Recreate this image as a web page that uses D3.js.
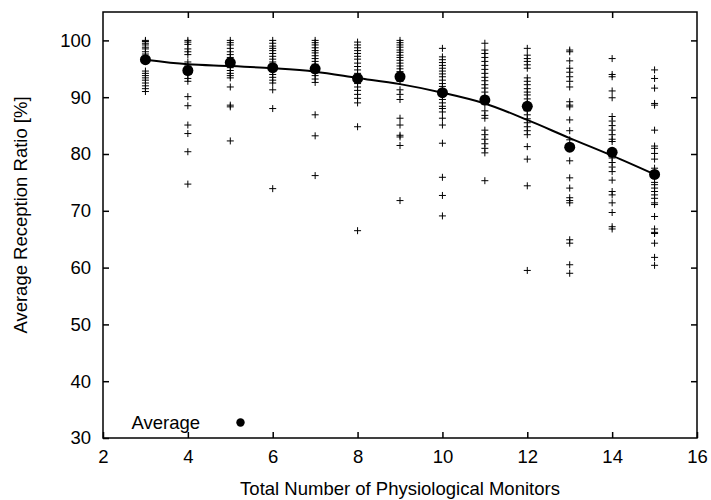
<!DOCTYPE html>
<html>
<head>
<meta charset="utf-8">
<script src="https://cdn.jsdelivr.net/npm/d3@7"></script>
<style>
  body { margin: 0; background: #fff; }
  svg text { font-family: "Liberation Sans", Arial, sans-serif; fill: #000; }
</style>
</head>
<body>
<svg id="canvas"></svg>
<script>
// monitor counts on the x axis
let monitors = [3, 4, 5, 6, 7, 8, 9, 10, 11, 12, 13, 14, 15]

// individual runs, one list per monitor count
let runs3 = [100, 99.8, 99.5, 99.2, 98.8, 98.5, 98.0, 97.6, 94.6, 94.2, 93.8, 93.4, 93.0, 92.5, 92.0, 91.5, 91.0]
let runs4 = [100, 99.7, 99.3, 98.5, 98.0, 97.5, 96.2, 95.5, 95.0, 94.5, 94.0, 93.3, 92.8, 90.1, 88.5, 85.1, 83.6, 80.4, 74.7]
let runs5 = [100, 99.6, 99.2, 98.6, 98.0, 97.5, 97.0, 96.6, 95.2, 94.7, 94.2, 93.8, 93.4, 91.8, 88.6, 88.3, 82.3]
let runs6 = [100, 99.5, 99.0, 98.6, 98.2, 97.7, 97.2, 96.7, 96.2, 95.0, 94.5, 94.0, 93.5, 93.0, 92.5, 91.3, 88.0, 73.9]
let runs7 = [100, 99.6, 99.2, 98.7, 98.2, 97.8, 97.3, 96.8, 96.3, 95.8, 95.3, 94.8, 94.3, 93.8, 93.2, 92.6, 86.9, 83.2, 76.2]
let runs8 = [99.7, 99.2, 98.7, 98.2, 97.7, 97.2, 96.7, 96.0, 95.4, 94.8, 94.2, 93.6, 93.0, 92.4, 91.8, 91.2, 90.5, 89.8, 89.0, 84.8, 66.5]
let runs9 = [100, 99.6, 99.2, 98.8, 98.3, 97.9, 97.4, 97.0, 96.5, 96.0, 95.5, 95.0, 94.5, 94.0, 93.4, 92.8, 91.3, 90.5, 89.6, 86.3, 85.1, 83.3, 83.0, 81.5, 71.8]
let runs10 = [98.6, 97.1, 96.6, 96.1, 95.6, 95.1, 94.6, 94.1, 93.6, 93.0, 92.4, 91.9, 91.3, 90.7, 90.2, 89.6, 89.0, 88.4, 88.0, 87.4, 86.3, 85.1, 81.9, 75.9, 72.7, 69.1]
let runs11 = [99.5, 98.3, 97.7, 97.0, 96.3, 95.6, 94.9, 94.2, 93.5, 92.9, 92.2, 91.6, 90.9, 90.2, 89.5, 88.8, 87.6, 86.8, 86.3, 84.2, 83.4, 82.6, 81.8, 81.0, 80.2, 75.3]
let runs12 = [98.6, 97.4, 96.8, 96.3, 95.7, 95.1, 93.4, 92.8, 92.2, 91.5, 90.9, 90.4, 89.7, 89.0, 88.3, 87.6, 86.9, 86.2, 85.5, 84.8, 84.1, 83.4, 81.3, 79.1, 74.4, 59.5]
let runs13 = [98.3, 98.0, 96.4, 95.1, 94.4, 93.6, 92.8, 91.8, 89.2, 88.6, 88.3, 86.0, 84.1, 82.5, 78.8, 75.8, 74.0, 72.3, 71.8, 71.4, 64.9, 64.3, 60.5, 59.0]
let runs14 = [96.8, 94.0, 93.6, 91.1, 89.9, 86.6, 85.8, 85.0, 84.2, 83.4, 82.6, 82.2, 80.4, 79.8, 79.3, 78.5, 77.7, 76.9, 75.4, 73.4, 72.8, 71.4, 69.7, 67.2, 66.8]
let runs15 = [94.8, 93.3, 91.6, 88.9, 88.6, 84.2, 81.4, 81.0, 80.1, 79.1, 77.5, 75.0, 74.6, 74.0, 73.4, 72.8, 72.2, 71.4, 71.1, 69.0, 66.8, 66.2, 66.0, 64.3, 61.8, 60.4]
let allRuns = [runs3, runs4, runs5, runs6, runs7, runs8, runs9, runs10, runs11, runs12, runs13, runs14, runs15]

// averages (dots) and fitted trend (line)
let averages = [96.6, 94.7, 96.1, 95.2, 95.0, 93.3, 93.6, 90.8, 89.5, 88.4, 81.2, 80.3, 76.4]
let trend = [96.6, 95.8, 95.5, 95.1, 94.5, 93.4, 92.3, 90.8, 88.9, 86.0, 82.8, 79.7, 76.4]

let xTicks = [2, 4, 6, 8, 10, 12, 14, 16]
let yTicks = [30, 40, 50, 60, 70, 80, 90, 100]

let width = 711
let height = 500
let margin = {left: 103, right: 14, top: 12, bottom: 62}
let fontSize = '18.5px'

let canvas = d3.select('#canvas')
canvas.attr('width', width)
      .attr('height', height)

let xScale = d3.scaleLinear()
               .domain([2, 16])
               .range([margin.left, width - margin.right])

let yScale = d3.scaleLinear()
               .domain([30, 105])
               .range([height - margin.bottom, margin.top])

let x0 = xScale.range()[0], x1 = xScale.range()[1]
let y0 = yScale.range()[0], y1 = yScale.range()[1]

/*axes with mirrored ticks*/
let axisStyle = (g) => {
  g.select('.domain').remove()
  g.selectAll('.tick line').attr('stroke', '#000').attr('stroke-width', 1.5)
  g.selectAll('.tick text').style('font-size', fontSize)
}

canvas.append('g')
      .attr('transform', 'translate(0,' + y0 + ')')
      .call(d3.axisBottom(xScale).tickValues(xTicks).tickSize(-6).tickPadding(12))
      .call(axisStyle)

canvas.append('g')
      .attr('transform', 'translate(0,' + y1 + ')')
      .call(d3.axisTop(xScale).tickValues(xTicks.slice(1, -1)).tickSize(-6).tickFormat(''))
      .call(axisStyle)

canvas.append('g')
      .attr('transform', 'translate(' + x0 + ',0)')
      .call(d3.axisLeft(yScale).tickValues(yTicks).tickSize(-6).tickPadding(12))
      .call(axisStyle)

canvas.append('g')
      .attr('transform', 'translate(' + x1 + ',0)')
      .call(d3.axisRight(yScale).tickValues(yTicks.slice(1)).tickSize(-6).tickFormat(''))
      .call(axisStyle)

canvas.append('rect')
      .attr('x', x0)
      .attr('y', y1)
      .attr('width', x1 - x0)
      .attr('height', y0 - y1)
      .attr('fill', 'none')
      .attr('stroke', '#000')
      .attr('stroke-width', 1.5)

/*axis titles*/
canvas.append('text')
      .attr('x', (x0 + x1) / 2)
      .attr('y', 495)
      .attr('text-anchor', 'middle')
      .style('font-size', fontSize)
      .text('Total Number of Physiological Monitors')

canvas.append('text')
      .attr('transform', 'translate(27,215) rotate(-90)')
      .attr('text-anchor', 'middle')
      .style('font-size', fontSize)
      .text('Average Reception Ratio [%]')

/*crosses for each run*/
let points = []
monitors.forEach((m, i) => allRuns[i].forEach((v) => points.push([m, v])))

let s = 3.5
canvas.append('g')
      .selectAll('path')
      .data(points)
      .enter()
      .append('path')
      .attr('d', (d) => {
        let cx = xScale(d[0]), cy = yScale(d[1])
        return 'M' + (cx - s) + ',' + cy + 'H' + (cx + s) + 'M' + cx + ',' + (cy - s) + 'V' + (cy + s)
      })
      .attr('stroke', '#000')
      .attr('stroke-width', 1)
      .attr('fill', 'none')

/*trend line*/
let line = d3.line()
    .x((d, i) => xScale(monitors[i]))
    .y((d) => yScale(d))
    .curve(d3.curveMonotoneX)

canvas.append('path')
      .datum(trend)
      .attr('d', line)
      .attr('fill', 'none')
      .attr('stroke', '#000')
      .attr('stroke-width', 2)

/*average dots*/
canvas.append('g')
      .selectAll('circle')
      .data(averages)
      .enter()
      .append('circle')
      .attr('cx', (d, i) => xScale(monitors[i]))
      .attr('cy', (d) => yScale(d))
      .attr('r', 5.5)
      .attr('fill', '#000')

/*legend*/
canvas.append('text')
      .attr('x', 200)
      .attr('y', 429)
      .attr('text-anchor', 'end')
      .style('font-size', fontSize)
      .text('Average')

canvas.append('circle')
      .attr('cx', 240.5)
      .attr('cy', 422.5)
      .attr('r', 4.2)
      .attr('fill', '#000')
</script>
</body>
</html>
